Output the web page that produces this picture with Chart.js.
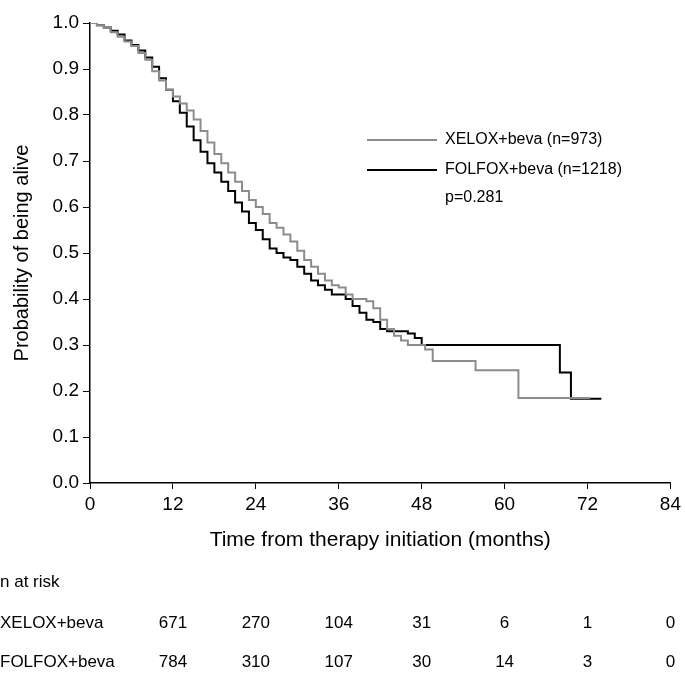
<!DOCTYPE html>
<html><head><meta charset="utf-8">
<script src="https://cdn.jsdelivr.net/npm/chart.js@4/dist/chart.umd.min.js"></script>
<style>html,body{margin:0;padding:0;background:#fff;}#wrap{position:relative;width:685px;height:679px;}</style>
</head><body><div id="wrap"><canvas id="c" width="685" height="679"></canvas></div>
<script>
// ---- data ----
const xeloxTimes = [0,1,2,3,4,5,6,7,8,9,10,11,12,13,14,15,16,17,18,19,20,21,22,23,24,25,26,27,28,29,30,31,32,33,34,35,36,37,38,40,41,42,43,44,45,46,48.5,49.6,55.8,62,72.4];
const xeloxSurv  = [1,0.995,0.99,0.98,0.97,0.96,0.95,0.935,0.92,0.895,0.875,0.855,0.84,0.825,0.81,0.79,0.765,0.74,0.715,0.695,0.675,0.655,0.635,0.615,0.6,0.585,0.565,0.555,0.54,0.525,0.505,0.485,0.47,0.455,0.44,0.43,0.425,0.41,0.4,0.395,0.38,0.355,0.335,0.32,0.31,0.3,0.29,0.265,0.245,0.185,0.185];
const folfoxTimes = [0,1,2,3,4,5,6,7,8,9,10,11,12,13,14,15,16,17,18,19,20,21,22,23,24,25,26,27,28,29,30,31,32,33,34,35,37,38,39,40,41,42,43,46,47,48,68,69.6,74];
const folfoxSurv  = [1,0.995,0.99,0.983,0.975,0.962,0.952,0.94,0.925,0.905,0.88,0.855,0.83,0.805,0.775,0.745,0.72,0.695,0.675,0.655,0.635,0.61,0.59,0.565,0.55,0.53,0.51,0.5,0.49,0.485,0.47,0.455,0.44,0.43,0.42,0.41,0.4,0.385,0.37,0.355,0.35,0.335,0.33,0.325,0.315,0.3,0.24,0.183,0.183];
const seriesLabels = ['XELOX+beva (n=973)', 'FOLFOX+beva (n=1218)'];
const pValueText = 'p=0.281';
const xTickStep = 12, xMax = 84;
const yTickStep = 0.1;
const riskTitle = 'n at risk';
const riskLabels = ['XELOX+beva', 'FOLFOX+beva'];
const riskMonths = [12,24,36,48,60,72,84];
const xeloxAtRisk = [671,270,104,31,6,1,0];
const folfoxAtRisk = [784,310,107,30,14,3,0];

const FONT = "'Liberation Sans', Arial, sans-serif";
const GRAY = '#8c8c8c';

function toPoints(ts, ss){ return ts.map((t,i)=>({x:t,y:ss[i]})); }

const overlay = {
  id: 'overlay',
  afterDraw(chart){
    const ctx = chart.ctx;
    const xs = chart.scales.x;
    ctx.save();
    // legend
    ctx.font = '16px ' + FONT;
    ctx.fillStyle = '#000';
    ctx.textBaseline = 'middle';
    ctx.textAlign = 'left';
    const legY = [140, 170];
    chart.data.datasets.forEach((ds, i) => {
      ctx.strokeStyle = ds.borderColor;
      ctx.lineWidth = ds.borderWidth;
      ctx.beginPath(); ctx.moveTo(367, legY[i]); ctx.lineTo(437, legY[i]); ctx.stroke();
      ctx.fillText(ds.label, 445, legY[i]);
    });
    ctx.fillText(pValueText, 445, 198);
    // risk table
    ctx.font = '17px ' + FONT;
    ctx.fillText(riskTitle, 0, 582);
    const rowY = [623, 662];
    const rows = [xeloxAtRisk, folfoxAtRisk];
    rows.forEach((r, i) => {
      ctx.textAlign = 'left';
      ctx.fillText(riskLabels[i], 0, rowY[i]);
      ctx.textAlign = 'center';
      r.forEach((v, j) => ctx.fillText(String(v), xs.getPixelForValue(riskMonths[j]), rowY[i]));
    });
    ctx.restore();
  }
};

new Chart(document.getElementById('c'), {
  type: 'line',
  data: { datasets: [
    { label: seriesLabels[0], data: toPoints(xeloxTimes, xeloxSurv), borderColor: GRAY, borderWidth: 2, stepped: 'before', pointRadius: 0, fill: false },
    { label: seriesLabels[1], data: toPoints(folfoxTimes, folfoxSurv), borderColor: '#000', borderWidth: 2, stepped: 'before', pointRadius: 0, fill: false }
  ]},
  options: {
    responsive: false, animation: false, devicePixelRatio: 1,
    layout: { padding: { top: 23, right: 11, left: 0, bottom: 0 } },
    plugins: { legend: { display: false }, tooltip: { enabled: false } },
    scales: {
      x: {
        type: 'linear', min: 0, max: xMax,
        ticks: { stepSize: xTickStep, color: '#000', font: { family: FONT, size: 19 }, padding: 4, maxRotation: 0 },
        grid: { display: true, drawOnChartArea: false, drawTicks: true, tickLength: 6, color: '#000', lineWidth: 1 },
        border: { display: true, color: '#000', width: 1.5 },
        title: { display: true, text: 'Time from therapy initiation (months)', color: '#000', font: { family: FONT, size: 21 }, padding: 126 },
        afterFit(s){ s.height = 196; }
      },
      y: {
        min: 0, max: 1,
        ticks: { stepSize: yTickStep, color: '#000', font: { family: FONT, size: 19 }, padding: 4, callback: v => Number(v).toFixed(1) },
        grid: { display: true, drawOnChartArea: false, drawTicks: true, tickLength: 7, color: '#000', lineWidth: 1 },
        border: { display: true, color: '#000', width: 1.5 },
        title: { display: true, text: 'Probability of being alive', color: '#000', font: { family: FONT, size: 20 }, padding: 10 },
        afterFit(s){ s.width = 90; }
      }
    }
  },
  plugins: [overlay]
});
</script></body></html>
